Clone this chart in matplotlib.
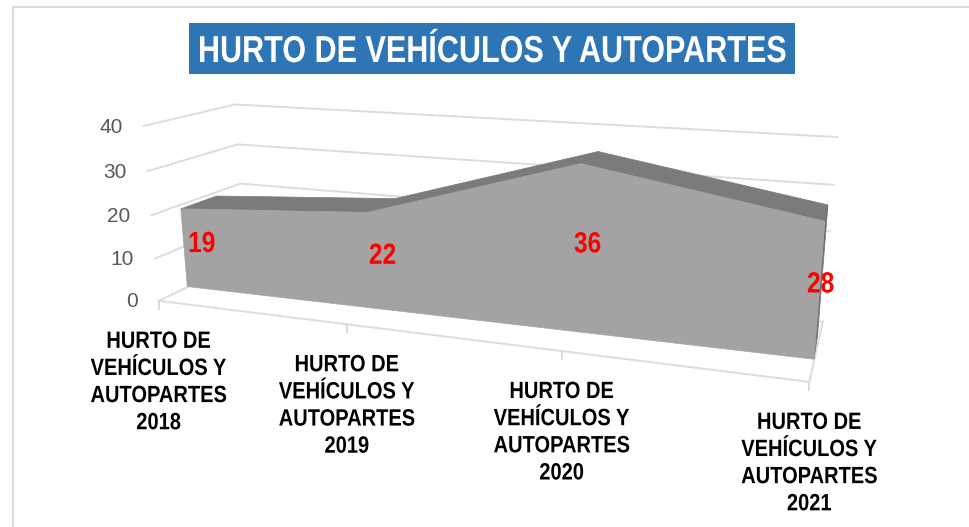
import numpy as np
import matplotlib
matplotlib.use('Agg')
import matplotlib.pyplot as plt
from matplotlib.patches import Polygon, Rectangle
from matplotlib.patheffects import AbstractPathEffect
from matplotlib.transforms import Affine2D

# data
title = 'HURTO DE VEHÍCULOS Y AUTOPARTES'
years = ['2018', '2019', '2020', '2021']
values = [19, 22, 36, 28]
value_ticks = [0, 10, 20, 30, 40]

# depth of the chart box, area sits between d=0 and d=1
d_front = -1.0
d_back = 1.75

area_3d = [(0, 0, 0), (3, 0, 0), (0, 19, 0), (3, 28, 0), (1, 22, 0), (2, 36, 0),
           (0, 19, 1), (1, 22, 1), (2, 36, 1), (3, 28, 1), (3, 0, 1)]
area_px = [(187, 287), (813, 361), (182, 208), (826, 221), (367, 212), (580, 163),
           (215, 197), (397, 198), (597, 152), (828, 206), (818, 333)]
box_3d = [(0, 0, d_front), (3, 0, d_front), (0, 40, d_front), (0, 30, d_front), (0, 20, d_front),
          (0, 10, d_front), (0, 40, d_back), (0, 30, d_back), (0, 20, d_back), (3, 40, d_back),
          (3, 30, d_back), (3, 0, d_back), (1, 0, d_front), (2, 0, d_front)]
box_px = [(160, 300), (810, 380), (143, 127), (147, 171), (151, 215),
          (155, 258), (237, 104), (238, 144), (238, 184), (838, 137),
          (833, 185), (823, 322), (347, 326), (561, 352)]


def fit_camera(pts3d, pts2d):
    rows = []
    for (c, v, d), (x, y) in zip(pts3d, pts2d):
        p = [c, v / 10.0, d, 1.0]
        x, y = x / 500.0, y / 500.0
        rows.append(p + [0, 0, 0, 0] + [-x * k for k in p])
        rows.append([0, 0, 0, 0] + p + [-y * k for k in p])
    vt = np.linalg.svd(np.array(rows))[2]
    return vt[-1].reshape(3, 4)


area_cam = fit_camera(area_3d, area_px)
box_cam = fit_camera(box_3d, box_px)


def proj(cam, c, v, d):
    q = cam @ np.array([c, v / 10.0, d, 1.0])
    return q[0] / q[2] * 500.0, q[1] / q[2] * 500.0


class Narrow(AbstractPathEffect):
    # squeeze text sideways around its centre, no narrow font is installed
    def __init__(self, cx, sx):
        super().__init__()
        self.cx = cx
        self.sx = sx

    def draw_path(self, renderer, gc, tpath, affine, rgbFace=None):
        squeeze = Affine2D().translate(-self.cx, 0).scale(self.sx, 1).translate(self.cx, 0)
        renderer.draw_path(gc, tpath, affine + squeeze, rgbFace)


fig = plt.figure(figsize=(9.7, 5.27), dpi=100)
ax = fig.add_axes([0, 0, 1, 1])
ax.set_xlim(0, 970)
ax.set_ylim(527, 0)
ax.axis('off')

# outer frame
ax.plot([13, 13, 970], [527, 7, 7], color='#dcdcdc', lw=1.6)

# title
ax.add_patch(Rectangle((189, 23), 606, 51, color='#2e75b6', lw=0))
ax.text(492, 62, title, color='white', fontsize=27, fontweight='bold',
        family='Liberation Sans', ha='center', va='baseline',
        path_effects=[Narrow(492, 0.815)])

# walls
grid = '#dcdcdc'
n = len(values) - 1
for t in value_ticks:
    a = proj(box_cam, 0, t, d_front)
    b = proj(box_cam, 0, t, d_back)
    e = proj(box_cam, n, t, d_back)
    ax.plot([a[0], b[0], e[0]], [a[1], b[1], e[1]], color=grid, lw=1.4, zorder=1)
    ax.text(a[0] - 21, a[1] + 1, str(t), color='#595959', fontsize=15,
            family='Liberation Sans', ha='right', va='center')

# floor line with ticks and category labels
a = proj(box_cam, 0, 0, d_front)
e = proj(box_cam, n, 0, d_front)
ax.plot([a[0], e[0]], [a[1], e[1]], color=grid, lw=1.4, zorder=1)
e2 = proj(box_cam, n, 0, d_back)
ax.plot([e[0], e2[0]], [e[1], e2[1]], color=grid, lw=1.4, zorder=1)
for i, yr in enumerate(years):
    x, y = proj(box_cam, i, 0, d_front)
    ax.plot([x, x], [y, y + 8], color=grid, lw=1.4, zorder=1)
    ax.text(x, y + 29, 'HURTO DE\nVEHÍCULOS Y\nAUTOPARTES\n' + yr, color='black',
            fontsize=17, fontweight='bold', family='Liberation Sans',
            ha='center', va='top', linespacing=1.23, zorder=5,
            path_effects=[Narrow(x, 0.85)])

# area: top ribbon, right side, front face
for i in range(n):
    pts = [proj(area_cam, i, values[i], 0), proj(area_cam, i + 1, values[i + 1], 0),
           proj(area_cam, i + 1, values[i + 1], 1), proj(area_cam, i, values[i], 1)]
    ax.add_patch(Polygon(pts, closed=True, fc='#7b7b7b', ec='#7b7b7b', lw=0.5, zorder=2))
side = [proj(area_cam, n, values[n], 0), proj(area_cam, n, values[n], 1),
        proj(area_cam, n, 0, 1), proj(area_cam, n, 0, 0)]
ax.add_patch(Polygon(side, closed=True, fc='#707070', ec='#707070', lw=0.5, zorder=2))
front = [proj(area_cam, i, values[i], 0) for i in range(n + 1)]
front += [proj(area_cam, n, 0, 0), proj(area_cam, 0, 0, 0)]
ax.add_patch(Polygon(front, closed=True, fc='#a3a3a3', ec='#a3a3a3', lw=0.5, zorder=3))

# data labels, halfway up the middle of the ribbon
for i, val in enumerate(values):
    x, y = proj(area_cam, i, val / 2.0, 0.5)
    ax.text(x - 0.5, y + 3.5, str(val), color='#ff0000', fontsize=21, fontweight='bold',
            family='Liberation Sans', ha='center', va='center', zorder=6,
            path_effects=[Narrow(x - 0.5, 0.84)])

fig.savefig('out.png', dpi=100)
